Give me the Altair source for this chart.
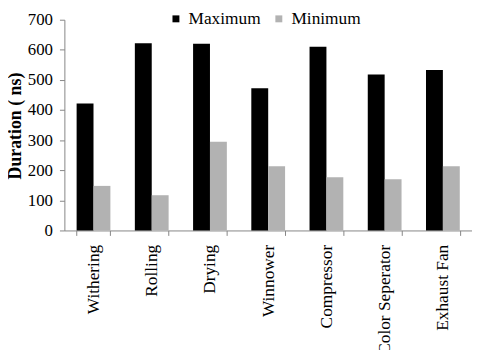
import altair as alt
import pandas as pd

categories = ["Withering", "Rolling", "Drying", "Winnower", "Compressor", "Color Seperator", "Exhaust Fan"]
maximum = [422, 622, 620, 472, 610, 518, 533]
minimum = [148, 117, 295, 213, 177, 170, 213]
series = ["Maximum", "Minimum"]
colors = ["#000000", "#b2b2b2"]
y_ticks = [0, 100, 200, 300, 400, 500, 600, 700]

rows = []
for c, mx, mn in zip(categories, maximum, minimum):
    rows.append({"cat": c, "series": series[0], "value": mx})
    rows.append({"cat": c, "series": series[1], "value": mn})
df = pd.DataFrame(rows)

FONT = "Liberation Serif"
AX = "#868686"

chart = alt.Chart(df).mark_bar().encode(
    x=alt.X("cat:N", sort=categories,
            scale=alt.Scale(paddingInner=0.42, paddingOuter=0.21),
            axis=alt.Axis(title=None, labelAngle=270, labelAlign="right", labelBaseline="middle",
                          labelFont=FONT, labelFontSize=17.5, labelColor="#000",
                          tickBand="extent", tickSize=5, tickColor=AX, domainColor=AX,
                          labelPadding=9, grid=False)),
    xOffset=alt.XOffset("series:N", sort=series, scale=alt.Scale(paddingInner=0, paddingOuter=0)),
    y=alt.Y("value:Q", scale=alt.Scale(domain=[0, 700], nice=False),
            axis=alt.Axis(title="Duration ( ns)", values=y_ticks, grid=False,
                          labelFont=FONT, labelFontSize=17, labelColor="#000",
                          tickSize=5, tickColor=AX, domainColor=AX, labelPadding=7,
                          titleFont=FONT, titleFontSize=18, titleFontWeight="bold", titleColor="#000",
                          titleAngle=270, titleAlign="center", titleBaseline="middle",
                          titleX=-49, titleY=107)),
    color=alt.Color("series:N", sort=series,
                    scale=alt.Scale(domain=series, range=colors),
                    legend=alt.Legend(title=None, orient="none", legendX=104, legendY=-10,
                                      direction="horizontal", symbolType="square", symbolSize=49,
                                      symbolStrokeWidth=0, labelFont=FONT, labelFontSize=17.5,
                                      labelColor="#000", columnPadding=9, labelOffset=4, padding=0)),
).properties(
    width=412, height=213,
    autosize=alt.AutoSizeParams(type="none"),
    padding={"left": 57, "top": 10, "right": 0, "bottom": 119},
).configure_view(stroke=None)

chart.save("out.html", embed_options={"renderer": "svg", "actions": False})
